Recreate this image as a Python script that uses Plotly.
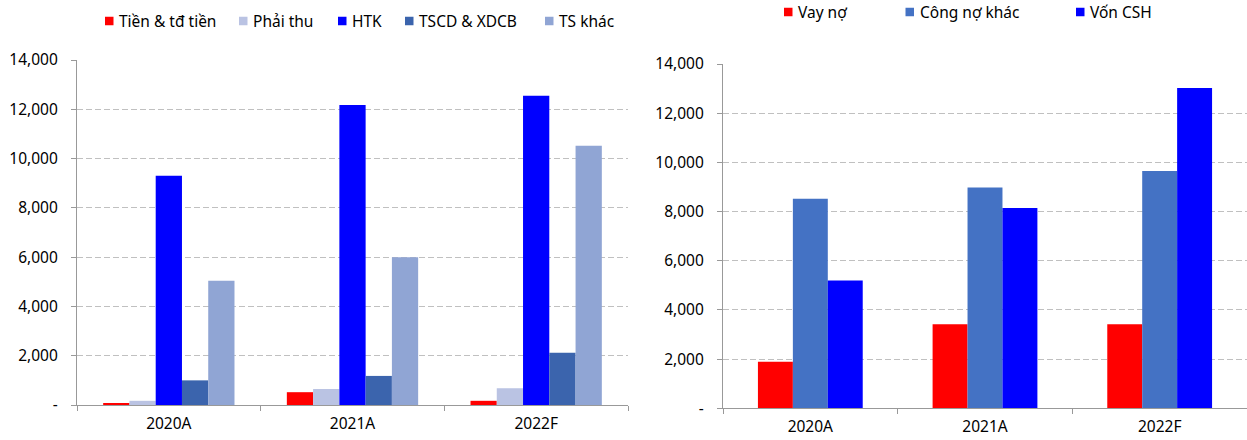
import plotly.graph_objects as go

# ---- data -------------------------------------------------------------
years = ["2020A", "2021A", "2022F"]

# Asset structure (left panel)
asset_names = ["Tiền & tđ tiền", "Phải thu", "HTK", "TSCD & XDCB", "TS khác"]
tien_td_tien = [60, 520, 170]
phai_thu = [170, 650, 680]
htk = [9300, 12170, 12550]
tscd_xdcb = [1000, 1180, 2120]
ts_khac = [5040, 6000, 10520]

# Capital structure (right panel)
capital_names = ["Vay nợ", "Công nợ khác", "Vốn CSH"]
vay_no = [1890, 3420, 3420]
cong_no_khac = [8520, 8980, 9650]
von_csh = [5200, 8140, 13020]

y_tick_values = [0, 2000, 4000, 6000, 8000, 10000, 12000, 14000]
y_tick_labels = ["-", "2,000", "4,000", "6,000", "8,000", "10,000", "12,000", "14,000"]

# ---- styling ----------------------------------------------------------
asset_colors = ["#FF0000", "#BAC3E3", "#0000FF", "#3B64AD", "#90A5D4"]
capital_colors = ["#FF0000", "#4472C4", "#0000FF"]
FONT = "Tahoma, 'Noto Sans', sans-serif"
FS = 15.5
W, H = 1247, 440

fig = go.Figure()

asset_series = [tien_td_tien, phai_thu, htk, tscd_xdcb, ts_khac]
w_left = 0.143
for i, (name, vals, col) in enumerate(zip(asset_names, asset_series, asset_colors)):
    fig.add_bar(x=years, y=vals, name=name, marker_color=col, marker_line_width=0,
                width=w_left, offset=-len(asset_series) * w_left / 2 + i * w_left,
                xaxis="x", yaxis="y", showlegend=False)

capital_series = [vay_no, cong_no_khac, von_csh]
w_right = 0.2
for i, (name, vals, col) in enumerate(zip(capital_names, capital_series, capital_colors)):
    fig.add_bar(x=years, y=vals, name=name, marker_color=col, marker_line_width=0,
                width=w_right, offset=-len(capital_series) * w_right / 2 + i * w_right,
                xaxis="x2", yaxis="y2", showlegend=False)


def px_x(p):
    return p / W


def px_y(p):
    return 1 - p / H


axis_common = dict(showline=True, linecolor="#999999", linewidth=1.3, automargin=False,
                   tickfont=dict(family=FONT, size=FS, color="#000000"))

yaxis_common = dict(axis_common, range=[0, 14000], tickvals=y_tick_values, ticktext=y_tick_labels,
                    showgrid=True, gridcolor="#C0C0C0", gridwidth=1, griddash="6px,3px",
                    zeroline=False, ticks="outside", ticklen=5, tickcolor="#999999",
                    ticklabelstandoff=10, fixedrange=True)

xaxis_common = dict(axis_common, type="category", showgrid=False, ticks="outside",
                    tickson="boundaries", ticklen=5, tickcolor="#999999",
                    ticklabelstandoff=4, fixedrange=True)

fig.update_layout(
    width=W, height=H,
    margin=dict(l=0, r=0, t=0, b=0, autoexpand=False),
    paper_bgcolor="white", plot_bgcolor="white",
    font=dict(family=FONT, size=FS, color="#000000"),
    barmode="group",
    xaxis=dict(xaxis_common, domain=[px_x(77), px_x(628)], anchor="y"),
    yaxis=dict(yaxis_common, domain=[px_y(405), px_y(60)], anchor="x"),
    xaxis2=dict(xaxis_common, domain=[px_x(723), 1.0], anchor="y2"),
    yaxis2=dict(yaxis_common, domain=[px_y(408.3), px_y(64)], anchor="x2"),
)

# ---- legends (one row above each panel) --------------------------------
SQ = 8.5


def add_legend(names, colors, square_left_px, center_y_px):
    for name, col, x0 in zip(names, colors, square_left_px):
        fig.add_shape(type="rect", xref="paper", yref="paper",
                      x0=px_x(x0), x1=px_x(x0 + SQ),
                      y0=px_y(center_y_px + SQ / 2), y1=px_y(center_y_px - SQ / 2),
                      fillcolor=col, line_width=0)
        fig.add_annotation(xref="paper", yref="paper", x=px_x(x0 + SQ + 3.5),
                           y=px_y(center_y_px), text=name, showarrow=False,
                           xanchor="left", yanchor="middle",
                           font=dict(family=FONT, size=FS, color="#000000"))


add_legend(asset_names, asset_colors, [105, 239, 338, 405, 545], 21)
add_legend(capital_names, capital_colors, [784, 905.5, 1076], 12)

fig.write_html("out.html")
